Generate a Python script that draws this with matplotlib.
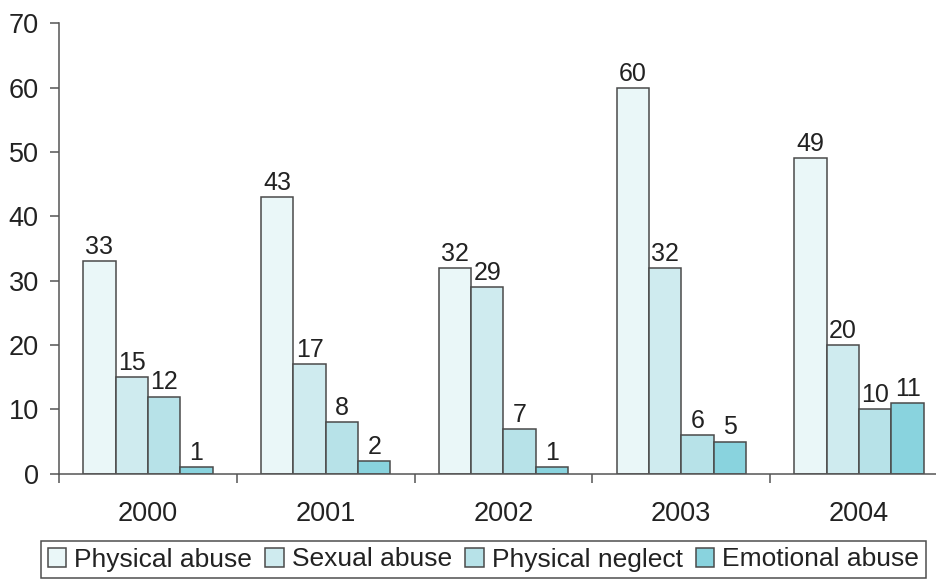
import matplotlib
matplotlib.use("Agg")
import matplotlib.pyplot as plt
import numpy as np

years = ["2000", "2001", "2002", "2003", "2004"]
series_names = ["Physical abuse", "Sexual abuse", "Physical neglect", "Emotional abuse"]
physical_abuse = [33, 43, 32, 60, 49]
sexual_abuse = [15, 17, 29, 32, 20]
physical_neglect = [12, 8, 7, 6, 10]
emotional_abuse = [1, 2, 1, 5, 11]
y_ticks = [0, 10, 20, 30, 40, 50, 60, 70]

series = [physical_abuse, sexual_abuse, physical_neglect, emotional_abuse]
colors = ["#EAF7F8", "#CFEBEF", "#B7E2E8", "#89D3DE"]

plt.rcParams["font.family"] = ["Liberation Sans", "DejaVu Sans"]

fig = plt.figure(figsize=(9.37, 5.83), dpi=100)
W, H = 937, 583
left_px, right_px, top_px, bottom_px = 59, 948, 23.4, 473.7
ax = fig.add_axes([left_px / W, (H - bottom_px) / H,
                   (right_px - left_px) / W, (bottom_px - top_px) / H])

x = np.arange(len(years))
bw = 0.182
offsets = (np.arange(4) - 1.5) * bw
for vals, off, col, name in zip(series, offsets, colors, series_names):
    bars = ax.bar(x + off, vals, width=bw, color=col, edgecolor="#4a4a4a",
                  linewidth=1.1, label=name, zorder=2)
    for b, v in zip(bars, vals):
        ax.annotate(str(v), (b.get_x() + b.get_width() / 2, v),
                    xytext=(0, 1.5), textcoords="offset points",
                    ha="center", va="bottom", fontsize=18, color="#222222")

ax.set_xlim(-0.5, len(years) - 0.5)
ax.set_ylim(0, 70)
ax.set_yticks(y_ticks)
ax.set_xticks(x)
ax.set_xticklabels(years)
ax.set_xticks(np.arange(len(years) + 1) - 0.5, minor=True)

for s in ["top", "right"]:
    ax.spines[s].set_visible(False)
for s in ["left", "bottom"]:
    ax.spines[s].set_color("#555555")
    ax.spines[s].set_linewidth(1.1)

ax.tick_params(axis="y", direction="out", length=6.5, width=1.1, color="#555555",
               labelsize=19.5, pad=8, labelcolor="#222222")
ax.tick_params(axis="x", which="major", length=0, labelsize=19.5, pad=20,
               labelcolor="#222222")
ax.tick_params(axis="x", which="minor", direction="out", length=6.5, width=1.1,
               color="#555555")

leg = fig.legend(loc="center", bbox_to_anchor=(483.5 / W, 1 - 559.5 / H), ncol=4,
                 fontsize=19, frameon=True, fancybox=False, handlelength=0.7,
                 handleheight=0.7, handletextpad=0.3, columnspacing=0.5,
                 borderpad=0.25, borderaxespad=0)
leg.get_frame().set_edgecolor("#222222")
leg.get_frame().set_linewidth(1.1)
for t in leg.get_texts():
    t.set_color("#222222")

fig.savefig("out.png", dpi=100)
